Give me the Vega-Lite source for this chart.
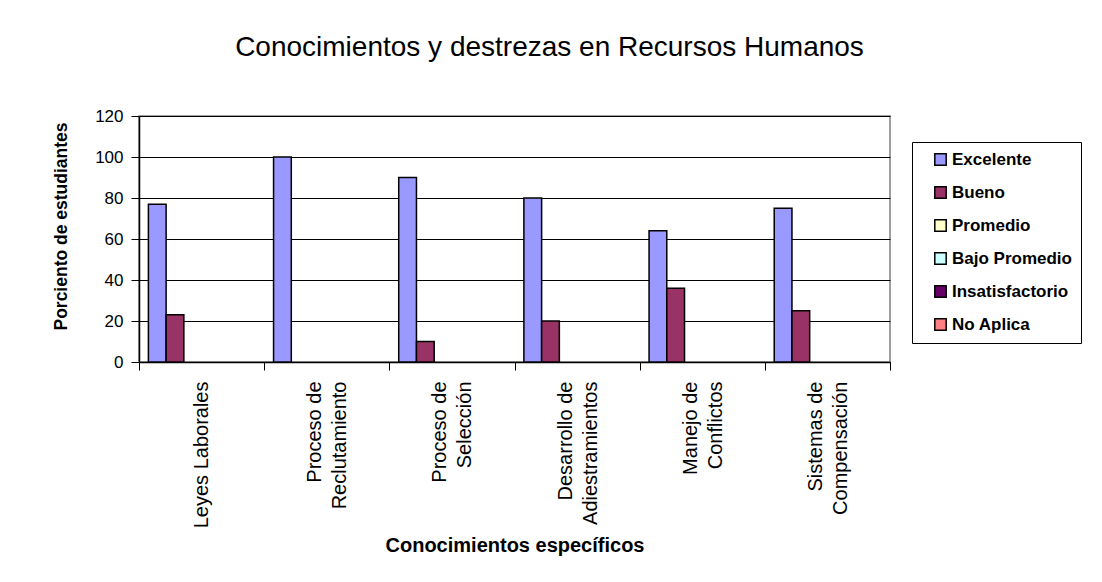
{
  "$schema": "https://vega.github.io/schema/vega-lite/v6.json",
  "width": 751,
  "height": 246,
  "autosize": {"type": "none"},
  "padding": {"left": 139, "top": 116, "right": 212, "bottom": 220},
  "background": "white",
  "title": {
    "text": "Conocimientos y destrezas en Recursos Humanos",
    "font": "Liberation Sans",
    "fontSize": 28,
    "fontWeight": "normal",
    "color": "black",
    "anchor": "middle",
    "frame": "group",
    "offset": 45,
    "dx": 35
  },
  "data": {
    "values": [
      {"cat": "Leyes Laborales", "nivel": "Excelente", "pct": 77},
      {"cat": "Leyes Laborales", "nivel": "Bueno", "pct": 23},
      {"cat": "Proceso de|Reclutamiento", "nivel": "Excelente", "pct": 100},
      {"cat": "Proceso de|Selección", "nivel": "Excelente", "pct": 90},
      {"cat": "Proceso de|Selección", "nivel": "Bueno", "pct": 10},
      {"cat": "Desarrollo de|Adiestramientos", "nivel": "Excelente", "pct": 80},
      {"cat": "Desarrollo de|Adiestramientos", "nivel": "Bueno", "pct": 20},
      {"cat": "Manejo  de|Conflictos", "nivel": "Excelente", "pct": 64},
      {"cat": "Manejo  de|Conflictos", "nivel": "Bueno", "pct": 36},
      {"cat": "Sistemas de|Compensación", "nivel": "Excelente", "pct": 75},
      {"cat": "Sistemas de|Compensación", "nivel": "Bueno", "pct": 25}
    ]
  },
  "mark": {"type": "bar", "stroke": "black", "strokeWidth": 1.5},
  "encoding": {
    "x": {
      "field": "cat",
      "type": "nominal",
      "sort": ["Leyes Laborales", "Proceso de|Reclutamiento", "Proceso de|Selección", "Desarrollo de|Adiestramientos", "Manejo  de|Conflictos", "Sistemas de|Compensación"],
      "scale": {"paddingInner": 0, "paddingOuter": 0},
      "title": "Conocimientos específicos",
      "axis": {
        "labelExpr": "split(datum.label, '|')",
        "labelAngle": 270,
        "labelAlign": "right",
        "labelBaseline": "middle",
        "labelFontSize": 20,
        "labelLineHeight": 25,
        "labelPadding": 11,
        "labelOffset": {"condition": {"test": "indexof(datum.label, '|') >= 0", "value": -12}, "value": 0},
        "labelLimit": 300,
        "tickSize": 8,
        "tickBand": "extent",
        "titleFontSize": 20,
        "titlePadding": 8,
        "grid": false
      }
    },
    "xOffset": {
      "field": "nivel",
      "type": "nominal",
      "scale": {"domain": ["Excelente", "Bueno", "Promedio", "Bajo Promedio", "Insatisfactorio", "No Aplica"], "paddingInner": 0, "paddingOuter": 0.53}
    },
    "y": {
      "field": "pct",
      "type": "quantitative",
      "scale": {"domain": [0, 120]},
      "title": "Porciento de estudiantes",
      "axis": {
        "values": [0, 20, 40, 60, 80, 100, 120],
        "labelFontSize": 17,
        "labelPadding": 8,
        "tickSize": 8,
        "titleFontSize": 17.5,
        "titlePadding": 24,
        "titleY": 110,
        "grid": true,
        "gridColor": "black",
        "gridOpacity": 1,
        "gridWidth": 1
      }
    },
    "color": {
      "field": "nivel",
      "type": "nominal",
      "scale": {
        "domain": ["Excelente", "Bueno", "Promedio", "Bajo Promedio", "Insatisfactorio", "No Aplica"],
        "range": ["#9999FF", "#993366", "#FFFFCC", "#CCFFFF", "#660066", "#FF8080"]
      },
      "legend": {
        "title": null,
        "orient": "none",
        "legendX": 773,
        "legendY": 26,
        "strokeColor": "black",
        "padding": 9,
        "symbolOffset": 11,
        "symbolType": "square",
        "symbolSize": 130,
        "symbolStrokeColor": "black",
        "symbolStrokeWidth": 1.5,
        "symbolOpacity": 1,
        "labelFont": "Liberation Sans",
        "labelFontSize": 17,
        "labelFontWeight": "bold",
        "labelColor": "black",
        "labelOffset": 3,
        "rowPadding": 14,
        "labelLimit": 300
      }
    }
  },
  "config": {
    "font": "Liberation Sans",
    "view": {"stroke": "#808080", "strokeWidth": 1.5},
    "axis": {
      "labelFont": "Liberation Sans",
      "titleFont": "Liberation Sans",
      "labelColor": "black",
      "titleColor": "black",
      "titleFontWeight": "bold",
      "domainColor": "black",
      "domainWidth": 1.5,
      "tickColor": "black",
      "tickWidth": 1
    }
  }
}
